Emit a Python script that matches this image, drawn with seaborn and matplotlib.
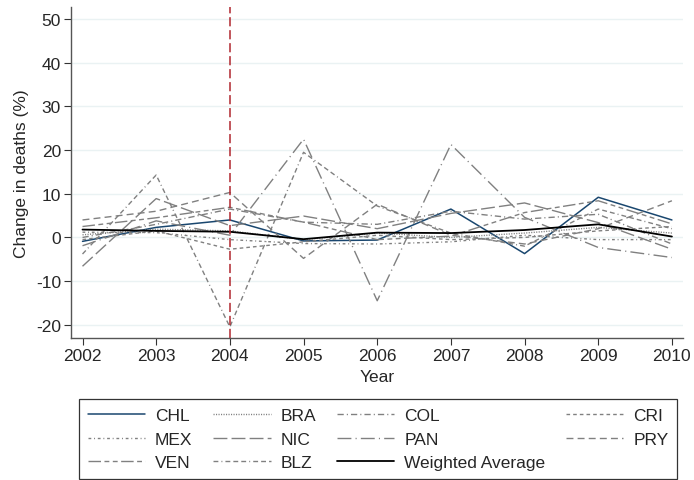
import numpy as np
import pandas as pd
import matplotlib
matplotlib.use("Agg")
import matplotlib.pyplot as plt
import seaborn as sns

# =======================
# data
# =======================
years = [2002, 2003, 2004, 2005, 2006, 2007, 2008, 2009, 2010]

chl = [-0.9, 2.3, 4.0, -0.8, -0.6, 6.5, -3.7, 9.2, 4.0]
bra = [0.6, 1.9, 1.5, -0.5, 1.0, 0.0, 1.0, 2.3, 1.0]
col = [0.0, 3.0, 6.5, 3.5, 3.0, 6.0, 4.2, 5.3, -1.5]
cri = [-0.5, 1.5, -2.7, -1.0, 0.5, -0.5, 0.0, 1.5, 2.5]
mex = [1.2, 1.1, -0.5, -1.4, -1.5, -1.0, 0.5, -0.5, -0.5]
nic = [-6.6, 8.9, 2.7, 4.9, 2.0, 5.5, 7.9, 3.4, -2.7]
pan = [-1.9, 3.8, 0.5, 22.5, -14.5, 21.3, 4.6, -2.3, -4.6]
pry = [4.0, 6.0, 10.3, -4.8, 7.6, 0.5, -1.5, 2.0, 8.4]
ven = [2.5, 4.5, 6.9, 3.5, -0.5, 0.3, 5.7, 8.4, 3.1]
blz = [-3.8, 14.3, -20.5, 19.5, 7.2, 1.0, -2.0, 6.5, 2.0]
wavg = [1.8, 1.5, 1.3, -0.4, 1.1, 1.0, 1.7, 3.0, 0.2]

labels = ["CHL", "BRA", "COL", "CRI", "MEX", "NIC", "PAN", "PRY", "VEN", "BLZ", "Weighted Average"]
series = [chl, bra, col, cri, mex, nic, pan, pry, ven, blz, wavg]

gray = "#808080"
styles = {
    "CHL": dict(color="#1a476f", linestyle="-", linewidth=1.1),
    "BRA": dict(color=gray, linestyle=(0, (0.8, 1.0)), linewidth=1.0),
    "COL": dict(color=gray, linestyle=(0, (4.5, 2.2, 0.8, 2.2)), linewidth=1.0),
    "CRI": dict(color=gray, linestyle=(0, (2.6, 2.2)), linewidth=1.0),
    "MEX": dict(color=gray, linestyle=(0, (2.0, 2.0, 0.7, 2.0)), linewidth=1.0),
    "NIC": dict(color=gray, linestyle=(0, (10, 3)), linewidth=1.0),
    "PAN": dict(color=gray, linestyle=(0, (10, 3, 0.8, 3)), linewidth=1.0),
    "PRY": dict(color=gray, linestyle=(0, (5, 3)), linewidth=1.0),
    "VEN": dict(color=gray, linestyle=(0, (9, 2.5, 3.5, 2.5, 3.5, 2.5)), linewidth=1.0),
    "BLZ": dict(color=gray, linestyle=(0, (3.5, 2.2, 0.7, 2.2, 3.5, 2.2, 3.5, 2.2)), linewidth=1.0),
    "Weighted Average": dict(color="black", linestyle="-", linewidth=1.3),
}

# =======================
# plot
# =======================
sns.set_style("white")
plt.rcParams['font.family'] = ['Liberation Sans', 'DejaVu Sans']
plt.rcParams['axes.unicode_minus'] = False
fs = 12.5

fig = plt.figure(figsize=(6.94, 4.81), dpi=100)
ax = fig.add_axes([0.1019, 0.2946, 0.8822, 0.6881])

for y in range(-20, 51, 10):
    ax.axhline(y, color="#eaf2f3", linewidth=1.0, zorder=0)

handles = {}
for name, vals in zip(labels, series):
    sns.lineplot(x=years, y=vals, ax=ax, label=name, legend=False, **styles[name])
    handles[name] = ax.get_lines()[-1]

ax.axvline(2004, color="#b0272f", linestyle=(0, (6, 2.5)), linewidth=1.1)

ax.set_xlim(2001.84, 2010.15)
ax.set_ylim(-23.1, 52.7)
ax.set_xticks(years)
ax.set_yticks(range(-20, 51, 10))
ax.tick_params(axis="both", direction="out", length=5, width=0.8, color="#333333",
               labelsize=fs, pad=2, left=True, bottom=True)
ax.set_xlabel("Year", fontsize=fs, labelpad=4)
ax.set_ylabel("Change in deaths (%)", fontsize=fs, labelpad=5)

for s in ["top", "right"]:
    ax.spines[s].set_visible(False)
for s in ["left", "bottom"]:
    ax.spines[s].set_color("#555555")
    ax.spines[s].set_linewidth(1.0)

# legend row-wise like the original: reorder for column filling
order = ["CHL", "MEX", "VEN", "BRA", "NIC", "BLZ", "COL", "PAN", "Weighted Average", "CRI", "PRY"]
leg = fig.legend([handles[k] for k in order], order, loc="upper center",
                 bbox_to_anchor=(0.545, 0.1684), ncol=4, fontsize=fs,
                 frameon=True, fancybox=False, edgecolor="black",
                 handlelength=3.3, handletextpad=0.57, columnspacing=1.2,
                 labelspacing=0.5, borderpad=0.5, borderaxespad=0)
leg.get_frame().set_linewidth(0.9)

fig.savefig("out.png", dpi=100)
